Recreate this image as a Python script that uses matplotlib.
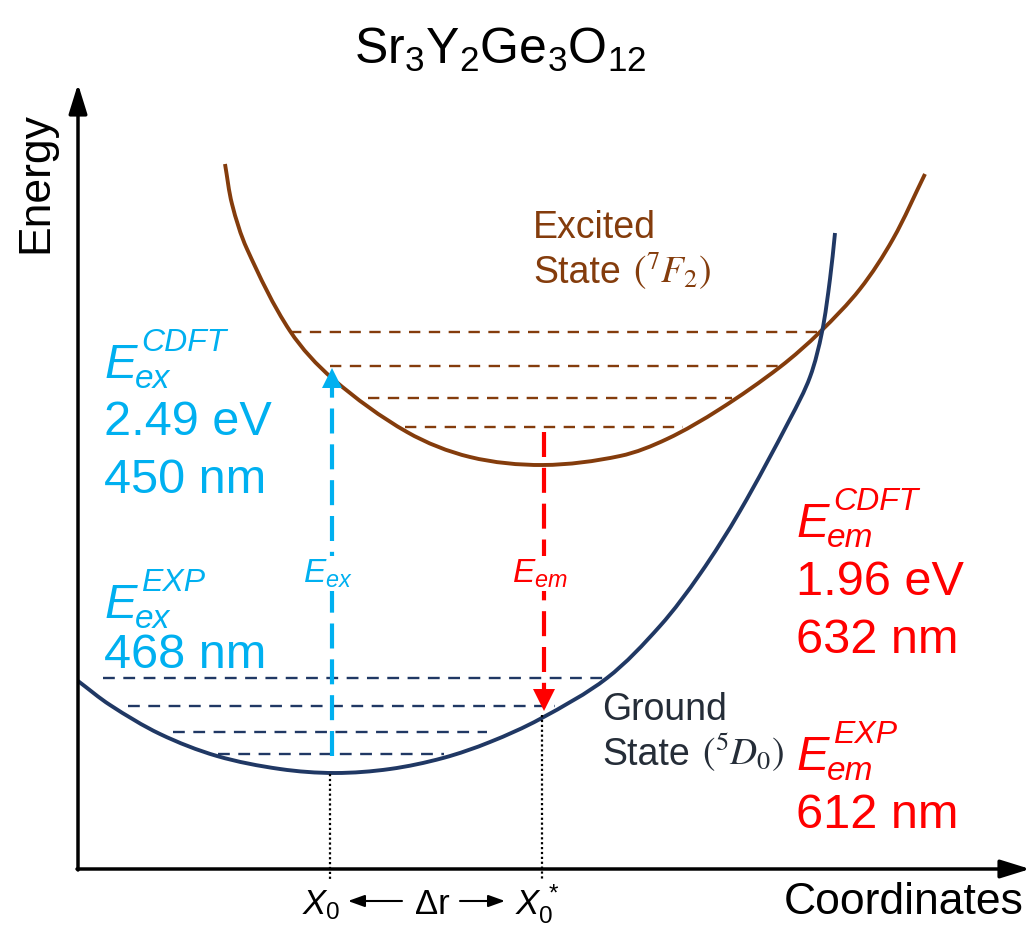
import matplotlib
matplotlib.use("Agg")
import matplotlib.pyplot as plt
import numpy as np
from matplotlib.path import Path
from matplotlib.patches import PathPatch

plt.rcParams["font.family"] = ["Liberation Sans", "DejaVu Sans"]
plt.rcParams["mathtext.fontset"] = "custom"
plt.rcParams["mathtext.rm"] = "Liberation Sans"
plt.rcParams["mathtext.it"] = "Liberation Sans:italic"
plt.rcParams["mathtext.bf"] = "Liberation Sans:bold"

# diagram (x = coordinate, y = energy, y grows downward)
excited_x = [225, 232, 247, 290, 333, 407, 470, 543, 620, 667, 720, 780, 820,
             860, 893, 925]
excited_y = [165, 205, 250, 332, 380, 433, 458, 466, 457, 440, 410, 368, 333,
             290, 240, 175]

ground_x = [78, 110, 160, 217, 280, 335, 390, 443, 490, 540, 607, 660,
            700, 740, 790, 810, 822, 830, 835]
ground_y = [682, 706, 735, 757, 770, 774, 770, 759, 743, 720, 679, 627,
            575, 512, 420, 378, 333, 280, 234]

# vibrational levels: energy, left end, right end
excited_levels = [333, 367, 399, 428]
excited_left = [290, 330, 368, 405]
excited_right = [820, 780, 732, 683]

ground_levels = [679, 707, 733, 755]
ground_left = [103, 128, 173, 218]
ground_right = [607, 555, 487, 444]

# transitions
x0 = 330
x0_star = 542
ex_x, ex_from, ex_to = 332, 757, 369
em_x, em_from, em_to = 544, 433, 712

axis_origin = (78, 870)
axis_top = 85
axis_right = 1030

CYAN = "#00B0F0"
RED = "#FF0000"
BROWN = "#843C0C"
NAVY = "#203864"
GREY = "#252D38"


def smooth_path(xs, ys):
    # chord-length catmull-rom through the read points, drawn as bezier
    p = np.column_stack([xs, ys]).astype(float)
    t = np.concatenate([[0], np.cumsum(np.hypot(*np.diff(p, axis=0).T))])
    m = np.zeros_like(p)
    m[1:-1] = (p[2:] - p[:-2]) / (t[2:] - t[:-2])[:, None]
    m[0] = (p[1] - p[0]) / (t[1] - t[0])
    m[-1] = (p[-1] - p[-2]) / (t[-1] - t[-2])
    verts = [p[0]]
    codes = [Path.MOVETO]
    for i in range(len(p) - 1):
        h = t[i + 1] - t[i]
        verts += [p[i] + m[i] * h / 3, p[i + 1] - m[i + 1] * h / 3, p[i + 1]]
        codes += [Path.CURVE4] * 3
    return Path(verts, codes)


def energy_label(x, y, sup, sub, color):
    ax.text(x, y, "E", fontsize=35, color=color, style="italic", va="baseline")
    ax.text(x + 36, y - 27, sup, fontsize=23, color=color, style="italic",
            va="baseline")
    ax.text(x + 30, y + 10, sub, fontsize=24, color=color, style="italic",
            va="baseline")


fig = plt.figure(figsize=(10.32, 9.28), dpi=100)
ax = fig.add_axes([0, 0, 1, 1])
ax.set_xlim(0, 1032)
ax.set_ylim(928, 0)
ax.axis("off")

# axes arrows
arrow = dict(arrowstyle="-|>,head_length=0.9,head_width=0.28",
             lw=2.5, color="black", shrinkA=0, shrinkB=0, mutation_scale=20)
ax.annotate("", xy=(axis_origin[0], axis_top),
            xytext=(axis_origin[0], axis_origin[1] + 1), arrowprops=arrow)
ax.annotate("", xy=(axis_right, axis_origin[1]),
            xytext=(axis_origin[0] - 1, axis_origin[1]), arrowprops=arrow)

# potential curves
ax.add_patch(PathPatch(smooth_path(excited_x, excited_y), fill=False,
                       edgecolor=BROWN, lw=2.8, capstyle="butt"))
ax.add_patch(PathPatch(smooth_path(ground_x, ground_y), fill=False,
                       edgecolor=NAVY, lw=2.8, capstyle="butt"))

for lvl, l, r in zip(excited_levels, excited_left, excited_right):
    ax.plot([l, r], [lvl, lvl], color=BROWN, lw=1.7, ls=(0, (4.8, 3.6)))
for lvl, l, r in zip(ground_levels, ground_left, ground_right):
    ax.plot([l, r], [lvl, lvl], color=NAVY, lw=1.7, ls=(0, (5.0, 3.6)))

# dotted guide lines down to the coordinate axis
ax.plot([x0, x0], [775, 880], color="black", lw=1.6, ls=(0, (1, 1.2)))
ax.plot([x0_star, x0_star], [716, 880], color="black", lw=1.6, ls=(0, (1, 1.2)))

# excitation arrow
ax.plot([ex_x, ex_x], [ex_from, ex_to + 20], color=CYAN, lw=3, ls=(0, (6, 2.6)))
ax.plot(ex_x, ex_to + 10, marker="^", ms=15, color=CYAN, mew=0)

# emission arrow
ax.plot([em_x, em_x], [em_from, em_to - 22], color=RED, lw=3, ls=(0, (6, 2.6)))
ax.plot(em_x, em_to - 11, marker="v", ms=16, color=RED, mew=0)

# title and axis names
ax.text(500, 64, r"Sr$_3$Y$_2$Ge$_3$O$_{12}$", fontsize=36, ha="center", va="baseline")
ax.text(36, 183, "Energy", fontsize=32, rotation=90, ha="center", va="center")
ax.text(1024, 914, "Coordinates", fontsize=32, ha="right", va="baseline")

# coordinate labels
ax.text(321, 914, r"$X_{\mathit{0}}$", fontsize=25, ha="center", va="baseline")
ax.text(432, 914, "Δr", fontsize=25, ha="center", va="baseline")
ax.text(537, 914, r"$X_{\mathit{0}}^{\,*}$", fontsize=25, ha="center", va="baseline")
small = dict(arrowstyle="-|>,head_length=0.5,head_width=0.18", lw=1.5,
             color="black", shrinkA=0, shrinkB=0, mutation_scale=20)
ax.annotate("", xy=(348, 902), xytext=(402, 902), arrowprops=small)
ax.annotate("", xy=(505, 902), xytext=(460, 902), arrowprops=small)

# state labels
ax.text(533, 238, "Excited", fontsize=27, color=BROWN, va="baseline")
ax.text(533, 283, "State", fontsize=27, color=BROWN, va="baseline")
ax.text(633, 283, r"$(^{7}F_{2})$", fontsize=27, color=BROWN, va="baseline",
        math_fontfamily="stix")
ax.text(602, 720, "Ground", fontsize=27, color=GREY, va="baseline")
ax.text(602, 765, "State", fontsize=27, color=GREY, va="baseline")
ax.text(702, 765, r"$(^{5}D_{0})$", fontsize=27, color=GREY, va="baseline",
        math_fontfamily="stix")

# transition labels
box = dict(facecolor="white", edgecolor="none", pad=1)
ax.text(328, 583, r"$E_{ex}$", fontsize=24, color=CYAN, ha="center",
        va="baseline", bbox=box)
ax.text(540, 583, r"$E_{em}$", fontsize=24, color=RED, ha="center",
        va="baseline", bbox=box)

# excitation energies
energy_label(105, 378, "CDFT", "ex", CYAN)
ax.text(104, 435, "2.49 eV", fontsize=35, color=CYAN, va="baseline")
ax.text(104, 493, "450 nm", fontsize=35, color=CYAN, va="baseline")
energy_label(105, 618, "EXP", "ex", CYAN)
ax.text(104, 668, "468 nm", fontsize=35, color=CYAN, va="baseline")

# emission energies
energy_label(797, 537, "CDFT", "em", RED)
ax.text(796, 595, "1.96 eV", fontsize=35, color=RED, va="baseline")
ax.text(796, 653, "632 nm", fontsize=35, color=RED, va="baseline")
energy_label(797, 770, "EXP", "em", RED)
ax.text(796, 828, "612 nm", fontsize=35, color=RED, va="baseline")

fig.savefig("out.png", dpi=100)
